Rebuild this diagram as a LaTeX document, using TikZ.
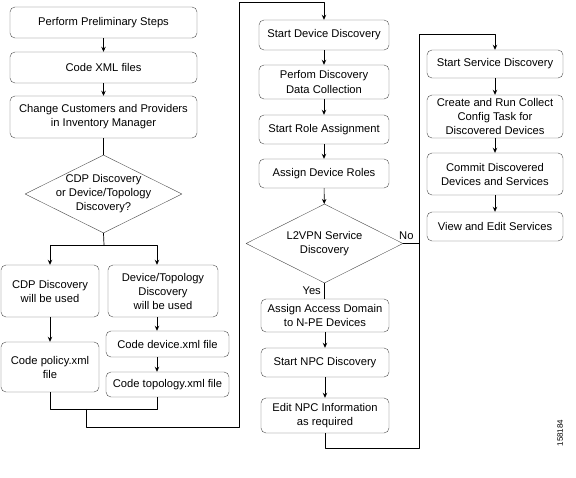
\documentclass[tikz,border=0pt]{standalone}
\usepackage{fontspec}
\setmainfont{Liberation Sans}
\usetikzlibrary{shapes.geometric,arrows.meta}
\tikzset{
  stepbox/.style={draw=black!70, rounded corners=5pt, align=center, inner sep=0pt},
  choice/.style={draw=black!70, diamond, aspect=2, align=center, inner sep=-8pt},
  link/.style={draw=black, line width=0.7pt},
}
\begin{document}
\begin{tikzpicture}[x=1pt, y=-1pt, font=\fontsize{11.2}{14}\selectfont, line join=round, >={Stealth[length=5pt,width=4.5pt]}]
\useasboundingbox (0,0) rectangle (576,478);
% left column
\node[stepbox, minimum width=187pt, minimum height=31pt] (prelim) at (103.5,22.5) {Perform Preliminary Steps};
\node[stepbox, minimum width=187pt, minimum height=31pt] (xml) at (103.5,67.5) {Code XML files};
\node[stepbox, minimum width=187pt, minimum height=42pt] (chg) at (103.5,117) {Change Customers and Providers\\in Inventory Manager};
\node[choice, minimum width=157pt, minimum height=78pt] (cdpq) at (103.5,194) {CDP Discovery\\or Device/Topology\\Discovery?};
\node[stepbox, minimum width=98pt, minimum height=52pt] (cdp) at (50,291) {CDP Discovery\\will be used};
\node[stepbox, minimum width=110pt, minimum height=52pt] (dtu) at (163,291) {Device/Topology\\Discovery\\will be used};
\node[stepbox, minimum width=98pt, minimum height=50pt] (policy) at (50,367) {Code policy.xml\\file};
\node[stepbox, minimum width=123pt, minimum height=26pt] (devx) at (167.5,344) {Code device.xml file};
\node[stepbox, minimum width=123pt, minimum height=25pt] (topo) at (167.5,384.5) {Code topology.xml file};
\path
(104,245) coordinate (fork)
(157,245) coordinate (rsp)
(86,409) coordinate (join)
(239,2) coordinate (top)
(419,34) coordinate (back)
;
% middle column
\node[stepbox, minimum width=130pt, minimum height=30pt] (dd) at (324,35) {Start Device Discovery};
\node[stepbox, minimum width=130pt, minimum height=34pt] (pdc) at (324,82) {Perfom Discovery\\Data Collection};
\node[stepbox, minimum width=130pt, minimum height=29pt] (sra) at (324,129.5) {Start Role Assignment};
\node[stepbox, minimum width=130pt, minimum height=29pt] (adr) at (324,173.5) {Assign Device Roles};
\node[choice, minimum width=157pt, minimum height=79pt] (l2q) at (324.5,243.5) {L2VPN Service\\Discovery};
\node[stepbox, minimum width=128pt, minimum height=33pt] (aad) at (325,315.5) {Assign Access Domain\\to N-PE Devices};
\node[stepbox, minimum width=128pt, minimum height=29pt] (snpc) at (325,362.5) {Start NPC Discovery};
\node[stepbox, minimum width=128pt, minimum height=35pt] (enpc) at (325,415.5) {Edit NPC Information\\as required};
% right column
\node[stepbox, minimum width=136pt, minimum height=28pt] (ssd) at (495,64) {Start Service Discovery};
\node[stepbox, minimum width=136pt, minimum height=43pt] (crcc) at (495,116.5) {Create and Run Collect\\Config Task for\\Discovered Devices};
\node[stepbox, minimum width=136pt, minimum height=42pt] (cdds) at (495,174) {Commit Discovered\\Devices and Services};
\node[stepbox, minimum width=136pt, minimum height=29pt] (ves) at (495,226.5) {View and Edit Services};
\node[rotate=90, font=\fontsize{8}{9}\selectfont] (fig) at (560,433) {158184};
% connectors
\draw[link,->] (prelim) -- (xml);
\draw[link,->] (xml) -- (chg);
\draw[link] (chg) -- (cdpq);
\draw[link] (cdpq.south) -- (fork);
\draw[link,->] (cdp.north |- fork) -- (rsp) -- (dtu.north -| rsp);
\draw[link,->] (cdp.north |- fork) -- (cdp.north);
\draw[link,->] (cdp) -- (policy);
\draw[link,->] (dtu.south -| rsp) -- (devx.north -| rsp);
\draw[link,->] (devx.south -| rsp) -- (topo.north -| rsp);
\draw[link] (policy.south) -- ++(0,17) -| (topo.south -| rsp);
\draw[link,->] (join) -- ++(0,18) -| (top) -| (dd.north);
\foreach \p/\q in {dd/pdc,pdc/sra,sra/adr,adr/l2q,aad/snpc,snpc/enpc,ssd/crcc,crcc/cdds,cdds/ves}
\draw[link,->] (\p) -- (\q);
\draw[link] (l2q.south) -- (aad.north -| l2q.south) node[midway,left]{Yes};
\draw[link] (l2q.east) -- (l2q.east -| back) node[pos=.2,above]{No};
\draw[link,->] (enpc.south) -- ++(0,15) -| (back) -| (ssd.north);
\end{tikzpicture}
\end{document}
